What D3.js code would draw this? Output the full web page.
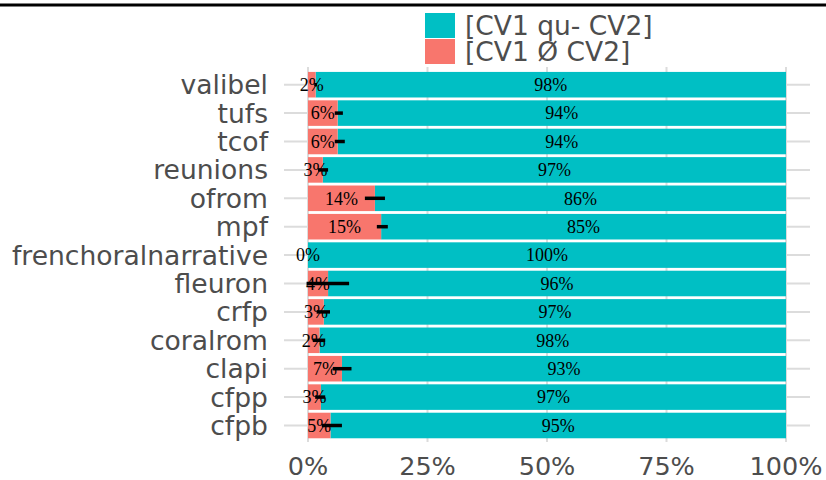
<!DOCTYPE html>
<html>
<head>
<meta charset="utf-8">
<script src="https://cdn.jsdelivr.net/npm/d3@7"></script>
<style>
  body { margin: 0; background: #fff; }
  svg { display: block; }
</style>
</head>
<body>
<div id="chart"></div>
<script>
// categories from top to bottom
const corpora = ["valibel", "tufs", "tcof", "reunions", "ofrom", "mpf", "frenchoralnarrative",
  "fleuron", "crfp", "coralrom", "clapi", "cfpp", "cfpb"];
// share of [CV1 Ø CV2] in percent (the rest is [CV1 qu- CV2])
const zeroShare = [1.6, 6.2, 6.2, 3.1, 14.0, 15.3, 0, 4.2, 3.3, 2.4, 7.1, 2.7, 4.7];
// error bar limits around the red end
const errLow = [1.3, 5.6, 5.6, 2.1, 11.9, 14.4, 0, -0.3, 1.8, 1.0, 5.2, 1.5, 2.9];
const errHigh = [1.9, 7.3, 7.7, 4.2, 16.1, 16.7, 0, 8.6, 4.6, 3.6, 9.1, 3.6, 7.1];
const xTicks = [0, 25, 50, 75, 100];
const legendLabels = ["[CV1 qu- CV2]", "[CV1 Ø CV2]"];
const colors = ["#00BFC4", "#F8766D"];

const W = 826, H = 480;
const svg = d3.select("#chart").append("svg")
  .attr("width", W).attr("height", H);

// top rule
svg.append("line")
  .attr("x1", 0).attr("x2", W).attr("y1", 5).attr("y2", 5)
  .attr("stroke", "#000").attr("stroke-width", 3);

const panel = { left: 284, right: 810, top: 67, bottom: 442 };

const x = d3.scaleLinear().domain([0, 100]).range([308, 786]);
const y = d3.scaleBand().domain(corpora).range([70.5, 439.7])
  .paddingInner(0.1).paddingOuter(0.05);

// grid
const grid = svg.append("g").attr("stroke", "#dcdcdc").attr("stroke-width", 2);
grid.selectAll("line.v").data(xTicks).enter().append("line")
  .attr("x1", d => x(d)).attr("x2", d => x(d))
  .attr("y1", panel.top).attr("y2", panel.bottom);
grid.selectAll("line.h").data(corpora).enter().append("line")
  .attr("x1", panel.left).attr("x2", panel.right)
  .attr("y1", d => y(d) + y.bandwidth() / 2)
  .attr("y2", d => y(d) + y.bandwidth() / 2);

const rows = corpora.map((c, i) => ({ c, z: zeroShare[i], lo: errLow[i], hi: errHigh[i] }));

// bars
svg.append("g").selectAll("rect").data(rows).enter().append("rect")
  .attr("x", d => x(d.z)).attr("width", d => x(100) - x(d.z))
  .attr("y", d => y(d.c)).attr("height", y.bandwidth())
  .attr("fill", colors[0]);
svg.append("g").selectAll("rect").data(rows).enter().append("rect")
  .attr("x", x(0)).attr("width", d => x(d.z) - x(0))
  .attr("y", d => y(d.c)).attr("height", y.bandwidth())
  .attr("fill", colors[1]);

// percent labels
const lab = svg.append("g")
  .attr("font-family", "'Liberation Serif', 'Times New Roman', serif")
  .attr("font-size", 18).attr("fill", "#000").attr("text-anchor", "middle");
lab.selectAll("text.z").data(rows).enter().append("text")
  .attr("x", d => x(d.z / 2))
  .attr("y", d => y(d.c) + y.bandwidth() / 2).attr("dy", "0.35em")
  .text(d => Math.round(d.z) + "%");
lab.selectAll("text.q").data(rows).enter().append("text")
  .attr("x", d => x(d.z + (100 - d.z) / 2))
  .attr("y", d => y(d.c) + y.bandwidth() / 2).attr("dy", "0.35em")
  .text(d => Math.round(100 - d.z) + "%");

// error bars
svg.append("g").selectAll("line").data(rows.filter(d => d.hi > d.lo)).enter().append("line")
  .attr("x1", d => x(d.lo)).attr("x2", d => x(d.hi))
  .attr("y1", d => y(d.c) + y.bandwidth() / 2)
  .attr("y2", d => y(d.c) + y.bandwidth() / 2)
  .attr("stroke", "#000").attr("stroke-width", 3.5);

// axes text
const txt = "'DejaVu Sans', sans-serif";
svg.append("g").selectAll("text").data(corpora).enter().append("text")
  .attr("x", 268).attr("y", d => y(d) + y.bandwidth() / 2).attr("dy", "0.36em")
  .attr("text-anchor", "end").attr("font-family", txt).attr("font-size", 26.6)
  .attr("fill", "#4d4d4d").text(d => d);
svg.append("g").selectAll("text").data(xTicks).enter().append("text")
  .attr("x", d => x(d)).attr("y", 475)
  .attr("text-anchor", "middle").attr("font-family", txt).attr("font-size", 25.5)
  .attr("fill", "#4d4d4d").text(d => d + "%");

// legend
const leg = svg.append("g");
legendLabels.forEach((l, i) => {
  leg.append("rect").attr("x", 425).attr("y", 13 + i * 26)
    .attr("width", 30).attr("height", 25).attr("fill", colors[i]);
  leg.append("text").attr("x", 465).attr("y", 13 + i * 26 + 12.5).attr("dy", "0.36em")
    .attr("font-family", txt).attr("font-size", 26.5).attr("fill", "#4d4d4d").text(l);
});
</script>
</body>
</html>
